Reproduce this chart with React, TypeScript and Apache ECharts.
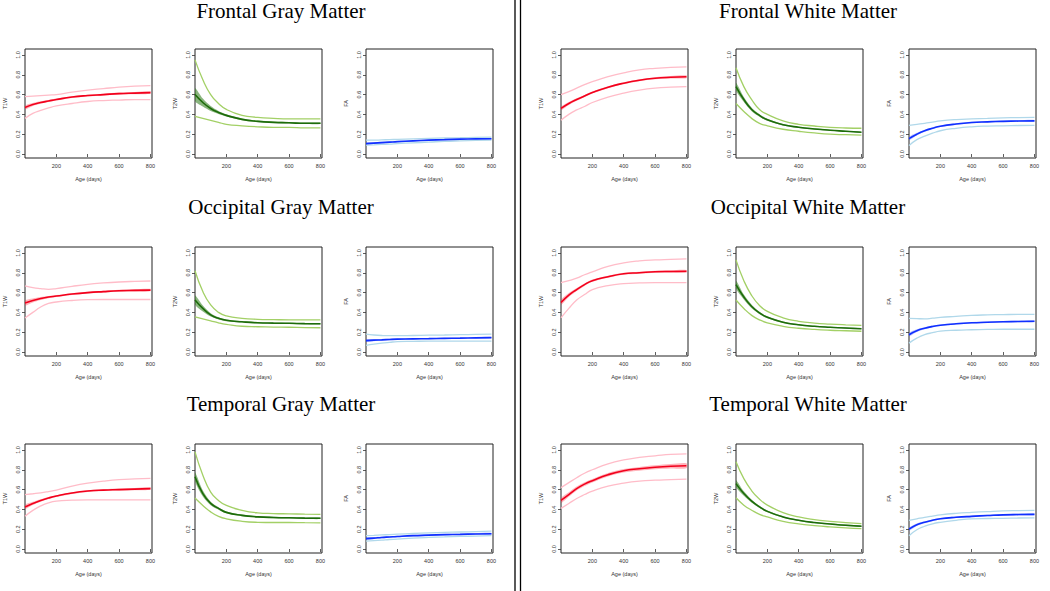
import React, { useEffect, useRef } from "react";
import * as echarts from "echarts";

// ---------- data ----------
const ages = [0, 50, 100, 150, 200, 300, 400, 500, 600, 700, 800];
const xTicks = [200, 400, 600, 800];
const yTicks = [0, 0.2, 0.4, 0.6, 0.8, 1.0];
const xName = "Age (days)";
const measureNames = ["T1W", "T2W", "FA"];
const grayTitles = ["Frontal Gray Matter", "Occipital Gray Matter", "Temporal Gray Matter"];
const whiteTitles = ["Frontal White Matter", "Occipital White Matter", "Temporal White Matter"];

// Frontal gray
const fgT1Mean = [0.47, 0.5, 0.52, 0.535, 0.55, 0.575, 0.59, 0.6, 0.61, 0.615, 0.62];
const fgT1Upper = [0.58, 0.585, 0.59, 0.595, 0.6, 0.625, 0.645, 0.66, 0.675, 0.685, 0.69];
const fgT1Lower = [0.36, 0.41, 0.44, 0.465, 0.485, 0.51, 0.53, 0.54, 0.545, 0.55, 0.55];
const fgT1Ci = [0.04, 0.03, 0.025, 0.02, 0.02, 0.018, 0.018, 0.018, 0.02, 0.022, 0.025];

const fgT2Mean = [0.6, 0.52, 0.46, 0.42, 0.39, 0.35, 0.33, 0.32, 0.315, 0.31, 0.31];
const fgT2Upper = [0.95, 0.75, 0.6, 0.51, 0.45, 0.39, 0.37, 0.36, 0.355, 0.355, 0.355];
const fgT2Lower = [0.38, 0.36, 0.34, 0.32, 0.3, 0.285, 0.275, 0.27, 0.27, 0.265, 0.265];
const fgT2Ci = [0.13, 0.08, 0.05, 0.03, 0.022, 0.018, 0.015, 0.015, 0.015, 0.015, 0.015];

const fgFaMean = [0.105, 0.11, 0.115, 0.12, 0.125, 0.133, 0.14, 0.145, 0.15, 0.153, 0.155];
const fgFaUpper = [0.14, 0.14, 0.143, 0.145, 0.148, 0.153, 0.158, 0.162, 0.165, 0.168, 0.17];
const fgFaLower = [0.09, 0.093, 0.097, 0.1, 0.105, 0.113, 0.12, 0.128, 0.133, 0.137, 0.14];
const fgFaCi = [0.02, 0.018, 0.016, 0.015, 0.014, 0.013, 0.013, 0.013, 0.013, 0.014, 0.015];

// Frontal white
const fwT1Mean = [0.46, 0.51, 0.55, 0.585, 0.62, 0.675, 0.715, 0.745, 0.765, 0.775, 0.78];
const fwT1Upper = [0.6, 0.63, 0.665, 0.7, 0.73, 0.78, 0.82, 0.85, 0.865, 0.875, 0.88];
const fwT1Lower = [0.34, 0.4, 0.445, 0.48, 0.52, 0.575, 0.615, 0.645, 0.665, 0.675, 0.68];
const fwT1Ci = [0.035, 0.03, 0.025, 0.022, 0.02, 0.02, 0.02, 0.02, 0.022, 0.025, 0.028];

const fwT2Mean = [0.68, 0.55, 0.45, 0.39, 0.345, 0.295, 0.27, 0.253, 0.24, 0.23, 0.22];
const fwT2Upper = [0.87, 0.68, 0.55, 0.45, 0.4, 0.335, 0.3, 0.283, 0.27, 0.263, 0.26];
const fwT2Lower = [0.51, 0.43, 0.36, 0.31, 0.285, 0.25, 0.23, 0.213, 0.2, 0.195, 0.19];
const fwT2Ci = [0.08, 0.05, 0.035, 0.025, 0.02, 0.015, 0.012, 0.012, 0.012, 0.012, 0.012];

const fwFaMean = [0.155, 0.2, 0.235, 0.26, 0.28, 0.303, 0.318, 0.325, 0.33, 0.333, 0.335];
const fwFaUpper = [0.29, 0.3, 0.31, 0.323, 0.335, 0.348, 0.355, 0.36, 0.365, 0.368, 0.37];
const fwFaLower = [0.085, 0.145, 0.18, 0.21, 0.235, 0.26, 0.275, 0.282, 0.285, 0.288, 0.29];
const fwFaCi = [0.035, 0.028, 0.022, 0.018, 0.016, 0.015, 0.015, 0.015, 0.015, 0.016, 0.018];

// Occipital gray
const ogT1Mean = [0.495, 0.52, 0.54, 0.555, 0.565, 0.585, 0.6, 0.61, 0.618, 0.622, 0.625];
const ogT1Upper = [0.667, 0.65, 0.64, 0.633, 0.64, 0.663, 0.683, 0.697, 0.707, 0.713, 0.717];
const ogT1Lower = [0.343, 0.4, 0.455, 0.49, 0.505, 0.52, 0.528, 0.53, 0.53, 0.53, 0.53];
const ogT1Ci = [0.05, 0.04, 0.03, 0.022, 0.02, 0.018, 0.018, 0.018, 0.02, 0.022, 0.025];

const ogT2Mean = [0.525, 0.44, 0.375, 0.34, 0.32, 0.305, 0.295, 0.292, 0.29, 0.287, 0.285];
const ogT2Upper = [0.82, 0.61, 0.475, 0.4, 0.365, 0.34, 0.33, 0.327, 0.325, 0.325, 0.325];
const ogT2Lower = [0.355, 0.335, 0.315, 0.295, 0.28, 0.26, 0.255, 0.252, 0.25, 0.247, 0.245];
const ogT2Ci = [0.09, 0.06, 0.035, 0.022, 0.018, 0.015, 0.013, 0.013, 0.013, 0.013, 0.013];

const ogFaMean = [0.115, 0.12, 0.123, 0.127, 0.13, 0.133, 0.135, 0.138, 0.14, 0.143, 0.145];
const ogFaUpper = [0.18, 0.172, 0.167, 0.165, 0.165, 0.167, 0.17, 0.172, 0.175, 0.178, 0.18];
const ogFaLower = [0.068, 0.08, 0.09, 0.098, 0.105, 0.108, 0.11, 0.11, 0.11, 0.11, 0.11];
const ogFaCi = [0.025, 0.02, 0.016, 0.014, 0.013, 0.012, 0.012, 0.012, 0.012, 0.013, 0.014];

// Occipital white
const owT1Mean = [0.5, 0.575, 0.63, 0.68, 0.72, 0.76, 0.79, 0.8, 0.81, 0.813, 0.815];
const owT1Upper = [0.7, 0.72, 0.745, 0.78, 0.81, 0.865, 0.9, 0.92, 0.93, 0.935, 0.94];
const owT1Lower = [0.345, 0.44, 0.525, 0.58, 0.63, 0.67, 0.69, 0.697, 0.7, 0.7, 0.7];
const owT1Ci = [0.05, 0.04, 0.03, 0.025, 0.022, 0.02, 0.02, 0.02, 0.022, 0.025, 0.028];

const owT2Mean = [0.68, 0.555, 0.46, 0.395, 0.35, 0.3, 0.275, 0.26, 0.25, 0.242, 0.235];
const owT2Upper = [0.93, 0.72, 0.57, 0.47, 0.41, 0.345, 0.31, 0.292, 0.282, 0.275, 0.27];
const owT2Lower = [0.525, 0.44, 0.37, 0.325, 0.295, 0.26, 0.24, 0.228, 0.22, 0.215, 0.21];
const owT2Ci = [0.08, 0.05, 0.035, 0.025, 0.02, 0.015, 0.012, 0.012, 0.012, 0.012, 0.012];

const owFaMean = [0.175, 0.215, 0.24, 0.258, 0.27, 0.285, 0.295, 0.3, 0.305, 0.308, 0.31];
const owFaUpper = [0.34, 0.337, 0.335, 0.342, 0.35, 0.36, 0.37, 0.375, 0.378, 0.38, 0.38];
const owFaLower = [0.09, 0.14, 0.175, 0.195, 0.21, 0.22, 0.225, 0.228, 0.23, 0.23, 0.23];
const owFaCi = [0.035, 0.028, 0.022, 0.018, 0.016, 0.015, 0.015, 0.015, 0.015, 0.016, 0.018];

// Temporal gray
const tgT1Mean = [0.425, 0.46, 0.49, 0.515, 0.535, 0.565, 0.585, 0.595, 0.6, 0.605, 0.61];
const tgT1Upper = [0.55, 0.558, 0.567, 0.58, 0.595, 0.635, 0.665, 0.685, 0.7, 0.708, 0.713];
const tgT1Lower = [0.33, 0.39, 0.435, 0.466, 0.483, 0.493, 0.497, 0.497, 0.497, 0.497, 0.497];
const tgT1Ci = [0.04, 0.032, 0.025, 0.02, 0.018, 0.018, 0.018, 0.018, 0.02, 0.022, 0.025];

const tgT2Mean = [0.73, 0.56, 0.46, 0.41, 0.37, 0.34, 0.325, 0.318, 0.315, 0.312, 0.31];
const tgT2Upper = [0.98, 0.745, 0.575, 0.49, 0.44, 0.39, 0.365, 0.358, 0.355, 0.352, 0.35];
const tgT2Lower = [0.515, 0.44, 0.375, 0.33, 0.305, 0.28, 0.27, 0.268, 0.268, 0.266, 0.265];
const tgT2Ci = [0.09, 0.06, 0.035, 0.025, 0.02, 0.017, 0.015, 0.015, 0.015, 0.015, 0.015];

const tgFaMean = [0.105, 0.11, 0.117, 0.122, 0.127, 0.135, 0.14, 0.145, 0.148, 0.152, 0.155];
const tgFaUpper = [0.135, 0.138, 0.142, 0.146, 0.15, 0.157, 0.163, 0.168, 0.172, 0.176, 0.18];
const tgFaLower = [0.08, 0.085, 0.09, 0.096, 0.1, 0.11, 0.117, 0.122, 0.127, 0.131, 0.135];
const tgFaCi = [0.025, 0.02, 0.018, 0.016, 0.015, 0.015, 0.015, 0.015, 0.016, 0.018, 0.02];

// Temporal white
const twT1Mean = [0.49, 0.55, 0.61, 0.655, 0.69, 0.75, 0.79, 0.81, 0.825, 0.835, 0.84];
const twT1Upper = [0.62, 0.67, 0.72, 0.765, 0.8, 0.86, 0.9, 0.925, 0.94, 0.955, 0.96];
const twT1Lower = [0.41, 0.46, 0.51, 0.55, 0.585, 0.635, 0.665, 0.685, 0.695, 0.7, 0.705];
const twT1Ci = [0.05, 0.045, 0.04, 0.038, 0.036, 0.035, 0.035, 0.038, 0.04, 0.045, 0.05];

const twT2Mean = [0.66, 0.56, 0.483, 0.426, 0.38, 0.324, 0.29, 0.267, 0.253, 0.24, 0.23];
const twT2Upper = [0.88, 0.71, 0.588, 0.503, 0.443, 0.368, 0.324, 0.297, 0.28, 0.267, 0.257];
const twT2Lower = [0.517, 0.443, 0.392, 0.35, 0.324, 0.28, 0.253, 0.236, 0.223, 0.213, 0.206];
const twT2Ci = [0.07, 0.045, 0.03, 0.022, 0.018, 0.015, 0.013, 0.013, 0.013, 0.013, 0.013];

const twFaMean = [0.2, 0.245, 0.27, 0.29, 0.305, 0.32, 0.33, 0.338, 0.345, 0.348, 0.35];
const twFaUpper = [0.29, 0.305, 0.32, 0.333, 0.345, 0.36, 0.37, 0.378, 0.385, 0.388, 0.39];
const twFaLower = [0.135, 0.195, 0.23, 0.255, 0.27, 0.29, 0.305, 0.308, 0.31, 0.313, 0.315];
const twFaCi = [0.03, 0.025, 0.02, 0.018, 0.016, 0.015, 0.015, 0.015, 0.016, 0.017, 0.018];

// panel list: [mean, upper, lower, ci, measureIndex, row, col]
const panels: any[] = [
  [fgT1Mean, fgT1Upper, fgT1Lower, fgT1Ci, 0, 0, 0],
  [fgT2Mean, fgT2Upper, fgT2Lower, fgT2Ci, 1, 0, 1],
  [fgFaMean, fgFaUpper, fgFaLower, fgFaCi, 2, 0, 2],
  [fwT1Mean, fwT1Upper, fwT1Lower, fwT1Ci, 0, 0, 3],
  [fwT2Mean, fwT2Upper, fwT2Lower, fwT2Ci, 1, 0, 4],
  [fwFaMean, fwFaUpper, fwFaLower, fwFaCi, 2, 0, 5],
  [ogT1Mean, ogT1Upper, ogT1Lower, ogT1Ci, 0, 1, 0],
  [ogT2Mean, ogT2Upper, ogT2Lower, ogT2Ci, 1, 1, 1],
  [ogFaMean, ogFaUpper, ogFaLower, ogFaCi, 2, 1, 2],
  [owT1Mean, owT1Upper, owT1Lower, owT1Ci, 0, 1, 3],
  [owT2Mean, owT2Upper, owT2Lower, owT2Ci, 1, 1, 4],
  [owFaMean, owFaUpper, owFaLower, owFaCi, 2, 1, 5],
  [tgT1Mean, tgT1Upper, tgT1Lower, tgT1Ci, 0, 2, 0],
  [tgT2Mean, tgT2Upper, tgT2Lower, tgT2Ci, 1, 2, 1],
  [tgFaMean, tgFaUpper, tgFaLower, tgFaCi, 2, 2, 2],
  [twT1Mean, twT1Upper, twT1Lower, twT1Ci, 0, 2, 3],
  [twT2Mean, twT2Upper, twT2Lower, twT2Ci, 1, 2, 4],
  [twFaMean, twFaUpper, twFaLower, twFaCi, 2, 2, 5],
];

// ---------- layout & style ----------
const colLeft = [25, 195, 366, 561, 736, 909];
const rowTop = [49, 247, 444];
const boxW = 127;
const boxH = 109;
const titleY = [12, 208, 405];
const titleX = [281, 808];

const palette = [
  { mean: "#f2001c", outer: "#ffbcc8", band: "rgba(255,40,60,0.35)" },
  { mean: "#1d6c0a", outer: "#a3d066", band: "rgba(40,120,20,0.55)" },
  { mean: "#1030ff", outer: "#b0d8ea", band: "rgba(30,60,255,0.3)" },
];

const sans = '"Liberation Sans", Arial, sans-serif';
const serif = '"Liberation Serif", "Times New Roman", serif';
const small = 5.5;

export default function App() {
  const ref = useRef<HTMLDivElement>(null);

  useEffect(() => {
    if (!ref.current) return;
    const chart = echarts.init(ref.current, null, { renderer: "svg" });

    const grids: any[] = [];
    const xAxes: any[] = [];
    const yAxes: any[] = [];
    const series: any[] = [];

    panels.forEach((p, i) => {
      const [mean, upper, lower, ci, m, r, c] = p;
      const col = palette[m];
      grids.push({
        left: colLeft[c],
        top: rowTop[r],
        width: boxW,
        height: boxH,
        show: true,
        borderColor: "#222",
        borderWidth: 1,
        backgroundColor: "transparent",
      });
      xAxes.push({
        type: "value",
        gridIndex: i,
        min: 0,
        max: 810,
        axisLine: { show: false },
        axisTick: { show: true, length: 3, customValues: xTicks, lineStyle: { color: "#333", width: 0.8 } },
        axisLabel: { customValues: xTicks, fontSize: small, color: "#333", margin: 5, fontFamily: sans },
        splitLine: { show: false },
        name: xName,
        nameLocation: "middle",
        nameGap: 18,
        nameTextStyle: { fontSize: small, color: "#333", fontFamily: sans },
      });
      yAxes.push({
        type: "value",
        gridIndex: i,
        min: -0.04,
        max: 1.06,
        axisLine: { show: false },
        axisTick: { show: true, length: 3, customValues: yTicks, lineStyle: { color: "#333", width: 0.8 } },
        axisLabel: {
          customValues: yTicks,
          rotate: 90,
          fontSize: small,
          color: "#333",
          margin: 4,
          fontFamily: sans,
          formatter: (v: number) => v.toFixed(1),
        },
        splitLine: { show: false },
        name: measureNames[m],
        nameLocation: "middle",
        nameGap: 17,
        nameRotate: 90,
        nameTextStyle: { fontSize: small, color: "#333", fontFamily: sans },
      });

      // confidence band drawn as a polygon through the axis scales
      const bandHi = ages.map((a, k) => [a, mean[k] + ci[k] / 2]);
      const bandLo = ages.map((a, k) => [a, mean[k] - ci[k] / 2]);
      series.push({
        type: "custom",
        xAxisIndex: i,
        yAxisIndex: i,
        silent: true,
        clip: true,
        data: [[400, 0.5]],
        renderItem: (_params: any, api: any) => {
          const pts = bandHi.map((d) => api.coord(d)).concat(bandLo.slice().reverse().map((d) => api.coord(d)));
          return {
            type: "polygon",
            shape: { points: pts, smooth: 0.3 },
            style: { fill: col.band, stroke: "none" },
          };
        },
      });

      const common = {
        type: "line",
        xAxisIndex: i,
        yAxisIndex: i,
        symbol: "none",
        smooth: 0.5,
        silent: true,
      };
      series.push({
        ...common,
        data: ages.map((a, k) => [a, upper[k]]),
        lineStyle: { color: col.outer, width: 1.3 },
      });
      series.push({
        ...common,
        data: ages.map((a, k) => [a, lower[k]]),
        lineStyle: { color: col.outer, width: 1.3 },
      });
      series.push({
        ...common,
        data: ages.map((a, k) => [a, mean[k]]),
        lineStyle: { color: col.mean, width: 1.6 },
      });
    });

    const titles: any[] = [];
    [grayTitles, whiteTitles].forEach((list, side) => {
      list.forEach((t, r) => {
        titles.push({
          text: t,
          left: titleX[side],
          top: titleY[r] - 12,
          textAlign: "center",
          padding: 0,
          textStyle: { fontFamily: serif, fontSize: 21, fontWeight: "normal", color: "#000" },
        });
      });
    });

    chart.setOption({
      animation: false,
      backgroundColor: "#fff",
      title: titles,
      grid: grids,
      xAxis: xAxes,
      yAxis: yAxes,
      series,
      graphic: [
        { type: "line", shape: { x1: 515, y1: 0, x2: 515, y2: 591 }, style: { stroke: "#000", lineWidth: 1.3 } },
        { type: "line", shape: { x1: 520.5, y1: 0, x2: 520.5, y2: 591 }, style: { stroke: "#000", lineWidth: 1.3 } },
      ],
    });

    return () => chart.dispose();
  }, []);

  return (
    <div
      ref={ref}
      style={{ position: "absolute", left: 0, top: 0, width: 1050, height: 591, background: "#fff" }}
    />
  );
}
